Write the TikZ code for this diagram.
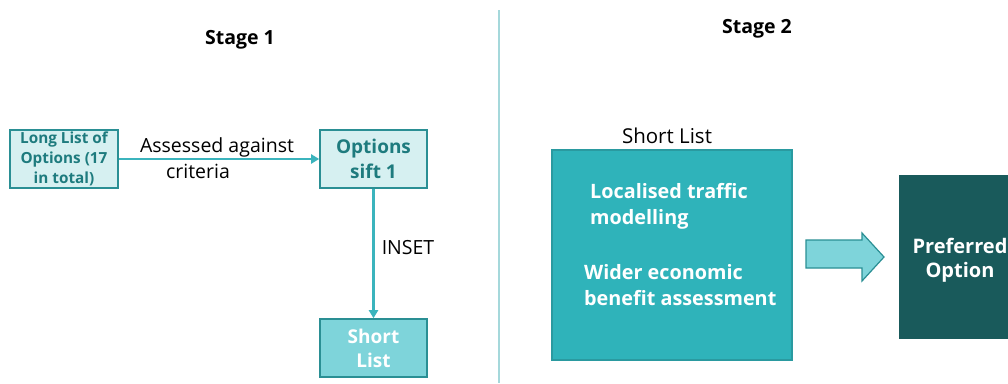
\documentclass[tikz,border=0pt]{standalone}
\usepackage{fontspec}
\setmainfont{Open Sans}
\usetikzlibrary{arrows.meta}
\definecolor{palefill}{HTML}{D6F0F1}
\definecolor{tealborder}{HTML}{2A8F94}
\definecolor{tealtext}{HTML}{1E7B7E}
\definecolor{arrowteal}{HTML}{3BB4BD}
\definecolor{midfill}{HTML}{7ED4DA}
\definecolor{bigfill}{HTML}{2FB3BA}
\definecolor{bigborder}{HTML}{2A9AA0}
\definecolor{darkfill}{HTML}{195A5B}
\definecolor{divider}{HTML}{A5D8DB}
\tikzset{
  palebox/.style={draw=tealborder, line width=1.6pt, fill=palefill, text=tealtext, font=\bfseries, align=center, inner sep=0pt},
  shortbox/.style={draw=tealborder, line width=1.6pt, fill=midfill, text=white, font=\bfseries\fontsize{19}{24}\selectfont, align=center, inner sep=0pt},
  flow/.style={draw=arrowteal, line width=2.4pt, -{Triangle[length=8pt,width=9pt]}},
  lbl/.style={text=black, inner sep=0pt},
  ttl/.style={text=black, font=\bfseries\fontsize{19.5}{22}\selectfont, inner sep=0pt},
  bigtxt/.style={text=white, font=\bfseries\fontsize{19.8}{26}\selectfont, align=left, anchor=west, inner sep=0pt},
}
\begin{document}
\begin{tikzpicture}[x=1pt,y=-1pt]
\useasboundingbox (0,0) rectangle (1008,383);
\clip (0,0) rectangle (1008,383);
\fill[white] (0,0) rectangle (1008,383);
% divider
\draw[divider, line width=1.4pt] (499,10) coordinate (dtop) -- (499,383) coordinate (dbot);
% titles
\node[ttl] (st1) at (240,40) {Stage 1};
\node[ttl] (st2) at (757,29) {Stage 2};
% stage 1 boxes
\node[palebox, minimum width=108pt, minimum height=58pt, font=\bfseries\fontsize{15.3}{20}\selectfont] (long) at (64,159) {Long List of\\Options (17\\in total)};
\node[palebox, minimum width=107pt, minimum height=58pt, font=\bfseries\fontsize{19}{25}\selectfont] (sift) at (373.5,159) {Options\\sift 1};
\node[shortbox, minimum width=107pt, minimum height=58pt] (short) at (373.5,348) {Short\\List};
\draw[flow] (long.east) -- (sift.west);
\draw[flow] (sift.south) -- (short.north);
\node[lbl, font=\fontsize{19.5}{22}\selectfont] (assessed) at (217,147) {Assessed against};
\node[lbl, font=\fontsize{19.5}{22}\selectfont] (criteria) at (198,171) {criteria};
\node[lbl, font=\fontsize{19.5}{22}\selectfont] (inset) at (408,248) {INSET};
% stage 2
\node[lbl, font=\fontsize{20.5}{22}\selectfont] (sllabel) at (667,136) {Short List};
\node[draw=bigborder, line width=1.4pt, fill=bigfill, minimum width=240pt, minimum height=210pt, inner sep=0pt] (big) at (672,255) {};
\node[bigtxt] (t1) at (590,206) {Localised traffic\\modelling};
\node[bigtxt] (t2) at (584,285) {Wider economic\\benefit assessment};
\node[draw=darkfill, fill=darkfill, minimum width=122pt, minimum height=163pt, inner sep=0pt] (pref) at (960,256.5) {};
\node[text=white, font=\bfseries\fontsize{20}{24}\selectfont, align=center, inner sep=0pt] (preftext) at (960,260) {Preferred\\Option};
% block arrow
\draw[draw=tealborder, line width=1.2pt, fill=midfill] (806,240) -- (862,240) -- (862,233) -- (884,257) -- (862,281) -- (862,268) -- (806,268) -- cycle;
\end{tikzpicture}
\end{document}
